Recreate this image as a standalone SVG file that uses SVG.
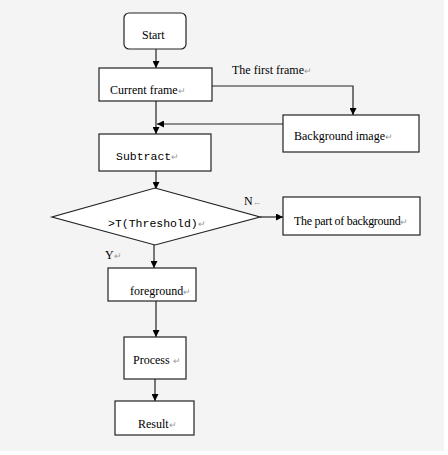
<svg xmlns="http://www.w3.org/2000/svg" width="448" height="455" viewBox="0 0 448 455">
<defs>
<marker id="ah" viewBox="0 0 10 10" refX="10" refY="5" markerWidth="7" markerHeight="7" orient="auto" markerUnits="userSpaceOnUse">
<path d="M0,0 L10,5 L0,10 z" fill="#000"/>
</marker>
<style>
.box{fill:#fff;stroke:#222;stroke-width:1.2}
.t{font-family:"Liberation Serif",serif;font-size:12px;fill:#000}
.m{font-family:"Liberation Mono",monospace;font-size:11.5px;fill:#000}
.r{font-family:"Liberation Serif",serif;font-size:9px;fill:#999}
.c{fill:none;stroke:#222;stroke-width:1.2}
</style>
</defs>
<rect x="0" y="0" width="448" height="455" fill="#f4f4f4"/>
<rect x="444" y="0" width="4" height="455" fill="#fff"/>
<rect x="0" y="451" width="448" height="4" fill="#fff"/>
<g id="connectors">
<path class="c" d="M156,49 V68" marker-end="url(#ah)"/>
<path class="c" d="M212,86 H353 V115" marker-end="url(#ah)"/>
<path class="c" d="M156,101 V134" marker-end="url(#ah)"/>
<path class="c" d="M283,124 H157" marker-end="url(#ah)"/>
<path class="c" d="M156,171 V189" marker-end="url(#ah)"/>
<path class="c" d="M260,217 H283" marker-end="url(#ah)"/>
<path class="c" d="M154,245 V268" marker-end="url(#ah)"/>
<path class="c" d="M156,301 V337" marker-end="url(#ah)"/>
<path class="c" d="M155,379 V401" marker-end="url(#ah)"/>
</g>
<g id="start">
<rect class="box" x="124" y="13" width="62" height="36" rx="5"/>
<text class="t" x="142" y="39" font-size="14">Start</text>
</g>
<g id="current-frame">
<rect class="box" x="99" y="68" width="113" height="33"/>
<text class="t" x="110" y="94">Current frame<tspan class="r">↵</tspan></text>
</g>
<g id="first-frame-label">
<text class="t" x="232" y="74">The first frame<tspan class="r">↵</tspan></text>
</g>
<g id="background-image">
<rect class="box" x="283" y="115" width="136" height="37"/>
<text class="t" x="294" y="140">Background image<tspan class="r">↵</tspan></text>
</g>
<g id="subtract">
<rect class="box" x="99" y="134" width="112" height="37"/>
<text class="m" x="116" y="160">Subtract<tspan class="r">↵</tspan></text>
</g>
<g id="threshold">
<polygon class="box" points="155,188 260,217 155,245 52,217"/>
<text class="m" x="108" y="227">&gt;T(Threshold)<tspan class="r">↵</tspan></text>
</g>
<g id="label-n">
<text class="t" x="244" y="205">N<tspan class="r">←</tspan></text>
</g>
<g id="part-of-background">
<rect class="box" x="283" y="197" width="137" height="38"/>
<text class="t" x="294" y="225" letter-spacing="-0.3">The part of background<tspan class="r">↵</tspan></text>
</g>
<g id="label-y">
<text class="t" x="105" y="259">Y<tspan class="r">↵</tspan></text>
</g>
<g id="foreground">
<rect class="box" x="108" y="268" width="88" height="33"/>
<text class="t" x="130" y="295">foreground<tspan class="r">↵</tspan></text>
</g>
<g id="process">
<rect class="box" x="124" y="337" width="62" height="42"/>
<text class="t" x="133" y="364">Process <tspan class="r">↵</tspan></text>
</g>
<g id="result">
<rect class="box" x="115" y="401" width="79" height="34"/>
<text class="t" x="138" y="428">Result<tspan class="r">↵</tspan></text>
</g>
</svg>
